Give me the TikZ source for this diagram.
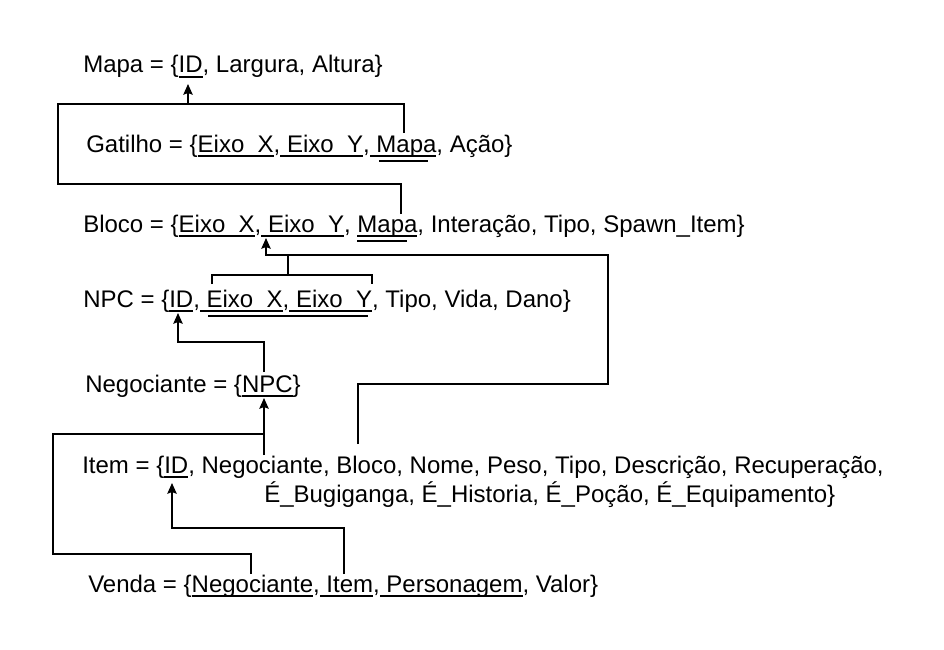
\documentclass[tikz,border=0pt]{standalone}
\usepackage{fontspec}
\setmainfont{Liberation Sans}
\usetikzlibrary{arrows.meta}
\newcommand\ukey[1]{\setbox0\hbox{#1}\rlap{\rule[-3.6pt]{\wd0}{1.05pt}}\box0}
\tikzset{
  txt/.style={anchor=base west, inner sep=0pt, font=\fontsize{18}{21.6}\selectfont},
  conn/.style={line width=1.4pt, line join=miter, black},
  arr/.style={conn, -{Stealth[length=8pt,width=7pt,inset=1.2pt]}},
  fk/.style={line width=1.1pt, black}
}
\begin{document}
\begin{tikzpicture}[x=0.75pt,y=-0.75pt]
\useasboundingbox[fill=white] (0,0) rectangle (944,649);

% relations
\node[txt] (mapa) at (83,73) {Mapa = \{\ukey{ID}, Largura, Altura\}};
\node[txt] (gatilho) at (86,152) {Gatilho = \{\ukey{Eixo\_X},\ukey{ Eixo\_Y},\ukey{ Mapa}, Ação\}};
\node[txt] (bloco) at (83,232) {Bloco = \{\ukey{Eixo\_X},\ukey{ Eixo\_Y}, \ukey{Mapa}, Interação, Tipo, Spawn\_Item\}};
\node[txt] (npc) at (83,307) {NPC = \{\ukey{ID},\ukey{ Eixo\_X},\ukey{ Eixo\_Y}, Tipo, Vida, Dano\}};
\node[txt] (negociante) at (85,392) {Negociante = \{\ukey{NPC}\}};
\node[txt] (item) at (82,473) {Item = \{\ukey{ID}, Negociante, Bloco, Nome, Peso, Tipo, Descrição, Recuperação,};
\node[txt] (item2) at (264,502) {É\_Bugiganga, É\_Historia, É\_Poção, É\_Equipamento\}};
\node[txt] (venda) at (88,592) {Venda = \{\ukey{Negociante},\ukey{ Item},\ukey{ Personagem}, Valor\}};

% foreign key second underlines
\draw[fk] (379,161) -- (428,161);
\draw[fk] (357,241) -- (407,241);
\draw[fk] (208,316) -- (368,316);

% anchor coordinates on attributes
\coordinate (mapaID) at (188,84);
\coordinate (gatMapa) at (404,133);
\coordinate (blocoMapa) at (401,214);
\coordinate (blocoEixo) at (266,238);
\coordinate (npcID) at (178,313);
\coordinate (npcEixoC) at (288,275);
\coordinate (negNPC) at (264,398);
\coordinate (negTop) at (264,372);
\coordinate (itemID) at (172,483);
\coordinate (itemNeg) at (264,455);
\coordinate (itemBloco) at (358,444);
\coordinate (vendaNeg) at (251,574);
\coordinate (vendaItem) at (344,574);
\coordinate (j1) at (188,104);
\coordinate (j2) at (266,255);
\coordinate (j3) at (264,434);

% Gatilho.Mapa -> Mapa.ID
\draw[arr] (gatMapa) -- (404,104) -- (j1) -- (mapaID);
% Bloco.Mapa -> Mapa.ID
\draw[conn] (blocoMapa) -- (401,184) -- (58,184) -- (58,104) -- (j1);
% NPC.(Eixo_X,Eixo_Y) -> Bloco
\draw[conn] (212,284) -- (212,275) -- (372,275) -- (372,284);
\draw[arr] (npcEixoC) -- (288,255) -- (j2) -- (blocoEixo);
% Item.Bloco -> Bloco
\draw[conn] (itemBloco) -- (358,384) -- (608,384) -- (608,255) -- (j2);
% Negociante.NPC -> NPC.ID
\draw[arr] (negTop) -- (264,342) -- (178,342) -- (npcID);
% Item.Negociante -> Negociante.NPC
\draw[arr] (itemNeg) -- (negNPC);
% Venda.Negociante -> Negociante
\draw[conn] (vendaNeg) -- (251,554) -- (53,554) -- (53,434) -- (j3);
% Venda.Item -> Item.ID
\draw[arr] (vendaItem) -- (344,528) -- (172,528) -- (itemID);
\end{tikzpicture}
\end{document}
